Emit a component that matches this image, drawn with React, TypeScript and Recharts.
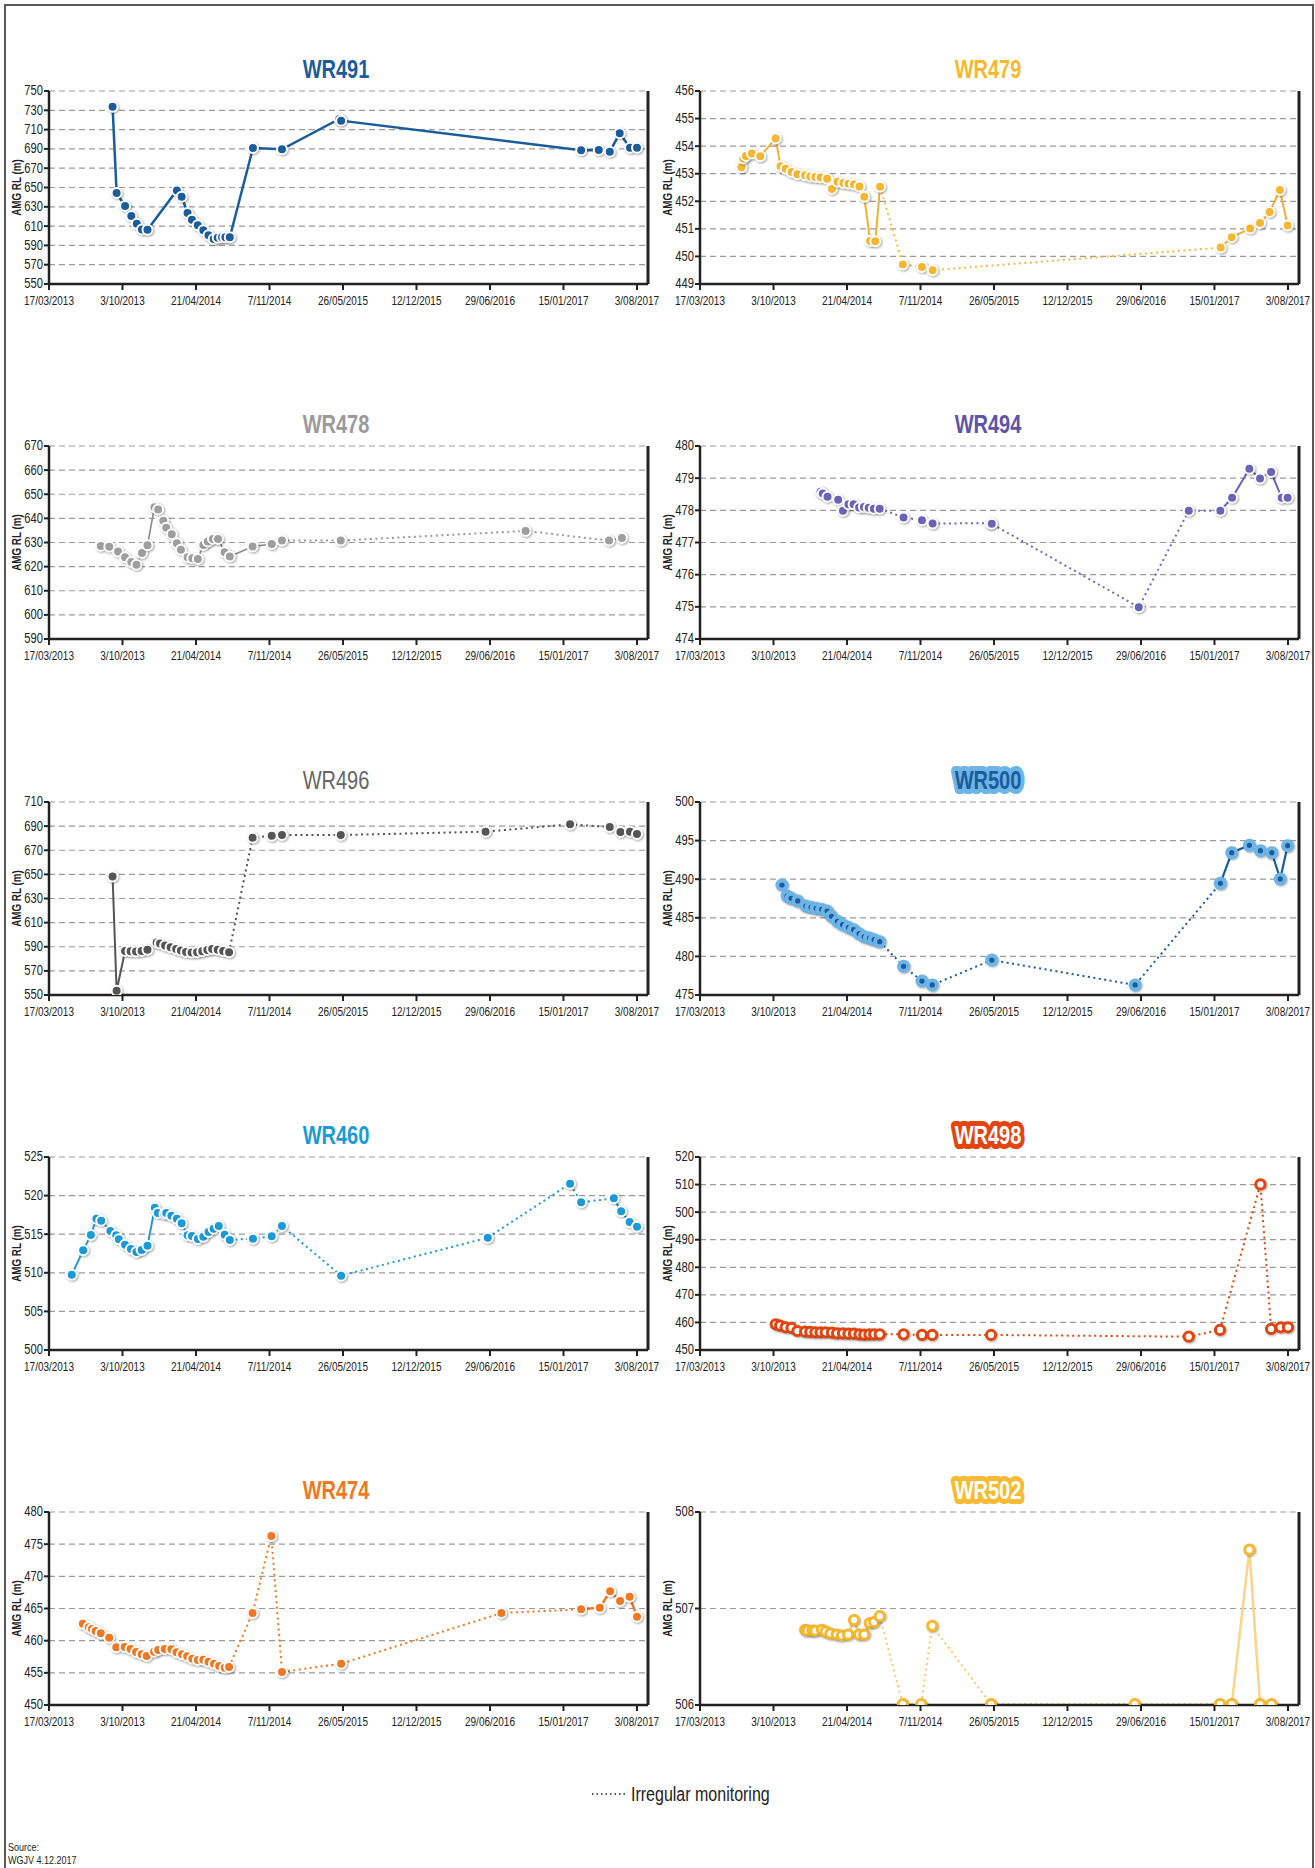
import React from 'react';
import { LineChart, Line, XAxis, YAxis, CartesianGrid, ReferenceLine } from 'recharts';

const FONT = "'Liberation Sans', Arial, sans-serif";
const NARROW = 0.8;

// x values are days since 17/03/2013
const dateTicks = [0, 200, 400, 600, 800, 1000, 1200, 1400, 1600];
const dateLabels = ['17/03/2013', '3/10/2013', '21/04/2014', '7/11/2014', '26/05/2015', '12/12/2015', '29/06/2016', '15/01/2017', '3/08/2017'];
const X_MAX = 1630;

const wr491Day = [173, 184, 207, 224, 239, 253, 268, 348, 361, 377, 389, 405, 420, 434, 448, 459, 471, 480, 492, 555, 634, 790, 795, 1448, 1496, 1526, 1553, 1581, 1600];
const wr491Level = [733.8, 644.3, 630.8, 620.5, 612.5, 606.6, 606.3, 647, 640.5, 623.6, 616.7, 610.8, 605.6, 600.4, 596.6, 598, 598.4, 598.4, 598.4, 691, 689.6, 721, 719.3, 688.5, 688.9, 687.1, 706.1, 691.3, 691.3];
const wr491Dotted: number[][] = [];
const wr491Ticks = [550, 570, 590, 610, 630, 650, 670, 690, 710, 730, 750];

const wr479Day = [113, 118, 125, 141, 164, 206, 219, 233, 249, 265, 286, 300, 314, 328, 346, 359, 374, 390, 404, 419, 434, 447, 463, 477, 490, 552, 604, 633, 1417, 1447, 1497, 1524, 1550, 1578, 1599];
const wr479Level = [453.23, 453.55, 453.64, 453.73, 453.63, 454.28, 453.27, 453.18, 453.06, 452.98, 452.94, 452.9, 452.88, 452.86, 452.82, 452.45, 452.71, 452.66, 452.64, 452.61, 452.54, 452.16, 450.56, 450.55, 452.53, 449.71, 449.62, 449.5, 450.32, 450.7, 451.01, 451.21, 451.61, 452.41, 451.12];
const wr479Dotted = [[24, 28]];
const wr479Ticks = [449, 450, 451, 452, 453, 454, 455, 456];

const wr478Day = [141, 164, 188, 207, 224, 238, 253, 268, 287, 297, 311, 319, 334, 348, 359, 377, 390, 405, 420, 432, 446, 460, 478, 492, 554, 606, 634, 794, 1297, 1524, 1559];
const wr478Level = [628.6, 628.2, 626.3, 623.9, 621.9, 620.8, 625.6, 628.9, 644.6, 643.7, 639.0, 636.1, 633.4, 629.7, 627.0, 623.9, 623.5, 623.2, 629.0, 630.4, 631.5, 631.4, 626.0, 624.2, 628.3, 629.4, 630.8, 630.8, 634.8, 630.8, 631.9];
const wr478Dotted = [[26, 29]];
const wr478Ticks = [590, 600, 610, 620, 630, 640, 650, 660, 670];

const wr494Day = [328, 334, 347, 376, 389, 404, 418, 433, 446, 459, 473, 489, 554, 604, 633, 789, 794, 1194, 1330, 1416, 1448, 1495, 1524, 1554, 1583, 1599];
const wr494Level = [478.58, 478.52, 478.42, 478.33, 477.99, 478.19, 478.19, 478.09, 478.1, 478.08, 478.05, 478.05, 477.78, 477.69, 477.59, 477.6, 477.58, 474.99, 477.99, 477.99, 478.39, 479.29, 478.99, 479.19, 478.39, 478.39];
const wr494Dotted = [[11, 19]];
const wr494Ticks = [474, 475, 476, 477, 478, 479, 480];

const wr496Day = [173, 184, 207, 222, 237, 252, 268, 293, 302, 316, 331, 346, 359, 373, 388, 403, 417, 431, 444, 459, 474, 490, 554, 606, 634, 794, 1188, 1418, 1526, 1555, 1581, 1600];
const wr496Level = [648.3, 553.6, 586.5, 586.3, 586.0, 586.5, 587.6, 593.5, 592.6, 591.0, 589.6, 588.2, 586.8, 585.7, 585.2, 585.4, 586.3, 587.4, 588.2, 587.6, 586.5, 585.4, 680.4, 682.0, 682.6, 682.6, 685.4, 691.5, 689.2, 685.1, 685.4, 683.4];
const wr496Dotted = [[21, 31]];
const wr496Ticks = [550, 570, 590, 610, 630, 650, 670, 690, 710];

const wr500Day = [223, 237, 248, 266, 288, 302, 316, 331, 346, 358, 374, 388, 404, 418, 433, 447, 461, 474, 489, 554, 604, 632, 794, 1184, 1416, 1447, 1495, 1525, 1556, 1579, 1599];
const wr500Level = [489.25, 487.82, 487.52, 487.18, 486.53, 486.36, 486.23, 486.1, 485.88, 485.19, 484.54, 484.11, 483.77, 483.46, 482.94, 482.56, 482.38, 482.17, 481.91, 478.71, 476.81, 476.3, 479.53, 476.3, 489.46, 493.44, 494.39, 493.7, 493.44, 490.03, 494.34];
const wr500Dotted = [[18, 24]];
const wr500Ticks = [475, 480, 485, 490, 495, 500];

const wr460Day = [62, 93, 114, 129, 142, 167, 183, 190, 207, 223, 238, 252, 268, 288, 296, 314, 319, 333, 348, 361, 377, 389, 405, 420, 434, 448, 462, 478, 492, 555, 606, 634, 795, 1194, 1418, 1448, 1537, 1557, 1580, 1600];
const wr460Level = [509.76, 512.91, 514.9, 517.01, 516.75, 515.41, 514.85, 514.33, 513.64, 513.08, 512.69, 512.95, 513.51, 518.44, 517.75, 517.62, 517.75, 517.4, 517.01, 516.41, 514.85, 514.77, 514.38, 514.68, 515.28, 515.72, 516.06, 514.94, 514.25, 514.42, 514.72, 516.06, 509.63, 514.55, 521.55, 519.13, 519.65, 517.96, 516.58, 515.98];
const wr460Dotted = [[28, 36]];
const wr460Ticks = [500, 505, 510, 515, 520, 525];

const wr498Day = [206, 218, 233, 249, 265, 286, 300, 314, 328, 342, 359, 373, 389, 404, 419, 434, 447, 461, 474, 489, 554, 604, 632, 792, 1330, 1415, 1525, 1554, 1580, 1600];
const wr498Level = [459.32, 458.84, 458.23, 457.99, 456.9, 456.66, 456.54, 456.42, 456.42, 456.42, 456.3, 456.05, 456.05, 455.93, 455.93, 455.69, 455.57, 455.69, 455.69, 455.69, 455.69, 455.45, 455.45, 455.45, 454.84, 457.27, 510.07, 457.63, 458.23, 458.23];
const wr498Dotted = [[19, 29]];
const wr498Ticks = [450, 460, 470, 480, 490, 500, 510, 520];

const wr474Day = [92, 108, 117, 127, 141, 164, 183, 206, 222, 237, 252, 266, 286, 297, 315, 333, 347, 362, 376, 390, 405, 420, 434, 449, 463, 478, 490, 554, 605, 634, 795, 1231, 1448, 1499, 1527, 1554, 1580, 1600];
const wr474Level = [462.64, 462.07, 461.81, 461.5, 461.14, 460.47, 458.96, 459.02, 458.7, 458.24, 457.88, 457.62, 458.29, 458.55, 458.7, 458.65, 458.19, 457.88, 457.56, 457.2, 457.0, 457.05, 456.74, 456.42, 456.06, 455.8, 455.91, 464.3, 476.27, 455.13, 456.42, 464.3, 464.87, 465.13, 467.67, 466.17, 466.84, 463.73];
const wr474Dotted = [[26, 32]];
const wr474Ticks = [450, 455, 460, 465, 470, 475, 480];

const wr502Day = [286, 293, 306, 314, 332, 342, 355, 372, 386, 403, 419, 433, 447, 462, 474, 489, 552, 602, 632, 792, 1183, 1415, 1447, 1495, 1524, 1555];
const wr502Level = [506.78, 506.77, 506.77, 506.77, 506.78, 506.76, 506.74, 506.73, 506.72, 506.73, 506.88, 506.73, 506.73, 506.85, 506.86, 506.92, 506.01, 506.01, 506.82, 506.01, 506.01, 506.01, 506.01, 507.61, 506.01, 506.01];
const wr502Dotted = [[15, 21]];
const wr502Ticks = [506, 507, 508];

type DotKind = 'filled' | 'ring' | 'hollow';
type Well = {
  name: string;
  days: number[];
  levels: number[];
  dotted: number[][];
  ticks: number[];
  color: string;
  lineColor: string;
  dottedColor: string;
  lineWidth: number;
  dot: DotKind;
  titleFill: string;
  titleHalo?: string;
  titleWeight?: string;
  ringInner?: string;
};

const wells: Well[] = [
  { name: 'WR491', days: wr491Day, levels: wr491Level, dotted: wr491Dotted, ticks: wr491Ticks, color: '#1b5c9a', lineColor: '#1b5c9a', dottedColor: '#1b5c9a', lineWidth: 2.5, dot: 'filled', titleFill: '#1b5c9a' },
  { name: 'WR479', days: wr479Day, levels: wr479Level, dotted: wr479Dotted, ticks: wr479Ticks, color: '#f5b731', lineColor: '#f2b12c', dottedColor: '#f5bb3a', lineWidth: 2, dot: 'filled', titleFill: '#f6b92e' },
  { name: 'WR478', days: wr478Day, levels: wr478Level, dotted: wr478Dotted, ticks: wr478Ticks, color: '#9e9e9e', lineColor: '#8c8c8c', dottedColor: '#9a9a9a', lineWidth: 1.6, dot: 'filled', titleFill: '#9a9a9a' },
  { name: 'WR494', days: wr494Day, levels: wr494Level, dotted: wr494Dotted, ticks: wr494Ticks, color: '#6a63b6', lineColor: '#6a63b6', dottedColor: '#6f68bb', lineWidth: 2, dot: 'filled', titleFill: '#5c55a8' },
  { name: 'WR496', days: wr496Day, levels: wr496Level, dotted: wr496Dotted, ticks: wr496Ticks, color: '#555555', lineColor: '#555555', dottedColor: '#555555', lineWidth: 2, dot: 'filled', titleFill: '#666666', titleWeight: 'normal' },
  { name: 'WR500', days: wr500Day, levels: wr500Level, dotted: wr500Dotted, ticks: wr500Ticks, color: '#6db5e6', lineColor: '#1b5c9a', dottedColor: '#1b5c9a', lineWidth: 2.2, dot: 'ring', ringInner: '#1b5c9a', titleFill: '#1b5c9a', titleHalo: '#6db5e6' },
  { name: 'WR460', days: wr460Day, levels: wr460Level, dotted: wr460Dotted, ticks: wr460Ticks, color: '#1a9bd7', lineColor: '#1a9bd7', dottedColor: '#1a9bd7', lineWidth: 2, dot: 'filled', titleFill: '#1a9bd7' },
  { name: 'WR498', days: wr498Day, levels: wr498Level, dotted: wr498Dotted, ticks: wr498Ticks, color: '#e2450f', lineColor: '#e2450f', dottedColor: '#e2450f', lineWidth: 2, dot: 'hollow', titleFill: '#ffffff', titleHalo: '#e2450f' },
  { name: 'WR474', days: wr474Day, levels: wr474Level, dotted: wr474Dotted, ticks: wr474Ticks, color: '#f07822', lineColor: '#f07822', dottedColor: '#f07822', lineWidth: 2.5, dot: 'filled', titleFill: '#f07822' },
  { name: 'WR502', days: wr502Day, levels: wr502Level, dotted: wr502Dotted, ticks: wr502Ticks, color: '#f5b82e', lineColor: '#f9d48a', dottedColor: '#f7c86a', lineWidth: 2.5, dot: 'hollow', titleFill: '#ffffff', titleHalo: '#f6bb33' },
];

const PLOT_TOPS = [90.7, 446, 801.7, 1156.7, 1512.3];
const COL_LEFT = [0, 651];
const TITLE_X = [336, 988];
const MARGIN_TOP = 10;
const PLOT_H = 193;
const XAXIS_H = 35;
const CHART_W = 680;
const RIGHT_M = 32;

function buildRuns(w: Well) {
  const pts = w.days.map((d, i) => ({ d, v: w.levels[i] }));
  const isDotted = (i: number) => w.dotted.some(([a, b]) => i >= a && i + 1 <= b);
  const runs: { dotted: boolean; data: { d: number; v: number }[] }[] = [];
  let start = 0;
  for (let i = 0; i < pts.length - 1; i++) {
    const s = isDotted(i);
    if (i === pts.length - 2 || isDotted(i + 1) !== s) {
      runs.push({ dotted: s, data: pts.slice(start, i + 2) });
      start = i + 1;
    }
  }
  return { pts, runs };
}

const SHADOW = 'drop-shadow(1px 1.5px 1px rgba(0,0,0,0.35))';

function makeDot(w: Well) {
  return (props: any) => {
    const { cx, cy, index } = props;
    if (cx == null || cy == null) return <g key={`e-${index}`} />;
    if (w.dot === 'ring') {
      return (
        <g key={`dot-${index}`} style={{ filter: SHADOW }}>
          <circle cx={cx} cy={cy} r={6.5} fill={w.color} />
          <circle cx={cx} cy={cy} r={2.6} fill={w.ringInner} />
        </g>
      );
    }
    if (w.dot === 'hollow') {
      return <circle key={`dot-${index}`} cx={cx} cy={cy} r={4.6} fill="#ffffff" stroke={w.color} strokeWidth={3} style={{ filter: SHADOW }} />;
    }
    return <circle key={`dot-${index}`} cx={cx} cy={cy} r={5} fill={w.color} stroke="#ffffff" strokeWidth={2} style={{ filter: SHADOW }} />;
  };
}

const DateTick = (props: any) => {
  const { x, y, payload } = props;
  const label = dateLabels[dateTicks.indexOf(payload.value)] || '';
  return (
    <g transform={`translate(${x},${y})`}>
      <text transform="scale(0.74,1)" x={0} y={0} dy="0.71em" textAnchor="middle" fontSize={13.5} fill="#222" fontFamily={FONT}>
        {label}
      </text>
    </g>
  );
};

const LevelTick = (props: any) => {
  const { x, y, payload } = props;
  return (
    <g transform={`translate(${x},${y})`}>
      <text transform={`scale(${NARROW},1)`} x={0} y={0} textAnchor="end" dominantBaseline="central" fontSize={14} fill="#222" fontFamily={FONT}>
        {payload.value}
      </text>
    </g>
  );
};

const yLabel = (props: any) => {
  const vb = props.viewBox || {};
  const x = (vb.x || 0) + 17;
  const y = (vb.y || 0) + (vb.height || 0) / 2;
  return (
    <g transform={`translate(${x},${y}) rotate(-90)`}>
      <text transform="scale(0.82,1)" x={0} y={0} textAnchor="middle" dominantBaseline="central" fontSize={12} fontWeight="bold" fill="#222" fontFamily={FONT}>
        AMG RL (m)
      </text>
    </g>
  );
};

function Panel({ w, idx }: { w: Well; idx: number }) {
  const row = Math.floor(idx / 2);
  const col = idx % 2;
  const { pts, runs } = buildRuns(w);
  const top = PLOT_TOPS[row] - MARGIN_TOP;
  const yMin = w.ticks[0];
  const yMax = w.ticks[w.ticks.length - 1];
  const titleY = PLOT_TOPS[row] - 22;
  return (
    <>
      <svg style={{ position: 'absolute', left: TITLE_X[col] - 100, top: titleY - 20 }} width={200} height={40}>
        <g transform="translate(100,20) scale(0.77,1)">
          <text
            x={0}
            y={0}
            textAnchor="middle"
            dominantBaseline="central"
            fontFamily={FONT}
            fontSize={26}
            fontWeight={w.titleWeight || 'bold'}
            fill={w.titleFill}
            stroke={w.titleHalo || 'none'}
            strokeWidth={w.titleHalo ? 10 : 0}
            strokeLinejoin="round"
            paintOrder="stroke"
          >
            {w.name}
          </text>
        </g>
      </svg>
      <div style={{ position: 'absolute', left: COL_LEFT[col], top }}>
        <LineChart width={CHART_W} height={MARGIN_TOP + PLOT_H + XAXIS_H} margin={{ top: MARGIN_TOP, right: RIGHT_M, bottom: 0, left: 0 }}>
          <CartesianGrid vertical={false} strokeDasharray="6 4" stroke="#9a9a9a" strokeWidth={1.2} />
          <XAxis
            type="number"
            dataKey="d"
            domain={[0, X_MAX]}
            ticks={dateTicks}
            interval={0}
            allowDataOverflow
            height={XAXIS_H}
            tick={<DateTick />}
            tickSize={6}
            tickMargin={5}
            axisLine={{ stroke: '#222', strokeWidth: 2.5 }}
            tickLine={{ stroke: '#222', strokeWidth: 2 }}
          />
          <YAxis
            type="number"
            domain={[yMin, yMax]}
            ticks={w.ticks}
            interval={0}
            allowDataOverflow
            width={49}
            tick={<LevelTick />}
            tickSize={5}
            tickMargin={1}
            axisLine={{ stroke: '#222', strokeWidth: 2.5 }}
            tickLine={{ stroke: '#222', strokeWidth: 2 }}
            label={yLabel}
          />
          <ReferenceLine x={X_MAX} stroke="#222" strokeWidth={3} />
          {runs.map((r, i) => (
            <Line
              key={`run-${i}`}
              data={r.data}
              dataKey="v"
              type="linear"
              stroke={r.dotted ? w.dottedColor : w.lineColor}
              strokeWidth={r.dotted ? 2 : w.lineWidth}
              strokeDasharray={r.dotted ? '2 3.5' : undefined}
              dot={false}
              activeDot={false}
              isAnimationActive={false}
            />
          ))}
          <Line data={pts} dataKey="v" type="linear" stroke="none" dot={makeDot(w)} activeDot={false} isAnimationActive={false} />
        </LineChart>
      </div>
    </>
  );
}

export default function App() {
  return (
    <div style={{ position: 'absolute', left: 0, top: 0, width: 1315, height: 1868, background: '#fff', overflow: 'hidden', fontFamily: FONT }}>
      <div style={{ position: 'absolute', left: 4, top: 4, width: 1306, height: 1900, border: '2px solid #5a5a5a' }} />
      {wells.map((w, i) => (
        <Panel key={w.name} w={w} idx={i} />
      ))}
      <svg style={{ position: 'absolute', left: 580, top: 1780 }} width={220} height={30}>
        <line x1={12} y1={14} x2={46} y2={14} stroke="#222" strokeWidth={1.5} strokeDasharray="1.5 3" />
        <g transform="translate(51,14) scale(0.8,1)">
          <text x={0} y={0} dominantBaseline="central" fontSize={20} fill="#222" fontFamily={FONT}>
            Irregular monitoring
          </text>
        </g>
      </svg>
      <svg style={{ position: 'absolute', left: 6, top: 1838 }} width={120} height={30}>
        <g transform="translate(2,0) scale(0.82,1)">
          <text x={0} y={9} dominantBaseline="central" fontSize={11} fill="#222" fontFamily={FONT}>Source:</text>
          <text x={0} y={22} dominantBaseline="central" fontSize={11} fill="#222" fontFamily={FONT}>WGJV 4.12.2017</text>
        </g>
      </svg>
    </div>
  );
}
